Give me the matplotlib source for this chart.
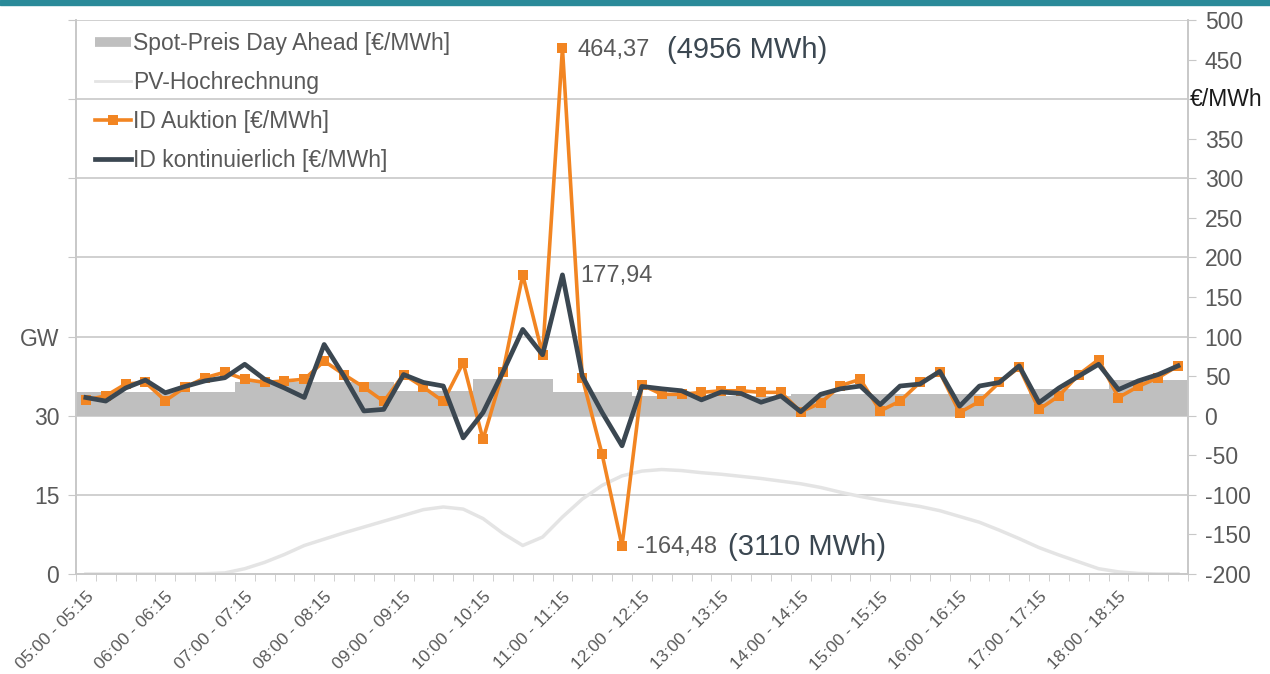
import numpy as np
import matplotlib
matplotlib.use("Agg")
import matplotlib.pyplot as plt
from matplotlib.patches import Rectangle
from matplotlib.lines import Line2D

plt.rcParams['font.family'] = ['Liberation Sans', 'DejaVu Sans']

# ---------------- data ----------------
hours = [f"{h:02d}:00 - {h:02d}:15" for h in range(5, 19)]
spot_hourly = [30, 30, 42, 42, 31, 47, 30, 25, 25, 27, 27, 27, 34, 45]

id_auktion = [20, 25, 40, 42, 19, 36, 48, 55, 46, 42, 44, 46, 69, 52, 36, 18, 52, 36, 18, 67,
              -30, 55, 178, 77, 464.37, 48, -49, -164.48, 39, 27, 27, 29.5, 31.5, 31.5, 29.5, 29.5,
              5, 16, 38, 46, 6, 18.5, 42, 55, 4, 18, 42, 61, 8, 25, 52, 71, 23, 37, 48, 63]

id_kont = [23, 18.5, 35, 45, 29, 37, 44, 48, 65, 46, 35, 23, 90, 50, 6, 8, 52, 42, 37.5, -28,
           4, 55, 109, 77, 177.94, 50, 4, -38, 37, 34, 31.5, 20, 30, 28, 17, 25,
           5, 27, 34, 37.5, 14, 37.5, 40, 56, 12, 37.5, 42, 63, 16.5, 35, 50, 65, 33, 44, 52, 63]

pv = [0, 0, 0, 0, 0, 0, 0.05, 0.2, 1.0, 2.2, 3.7, 5.4, 6.6, 7.8, 8.9, 10.0, 11.1, 12.2, 12.7, 12.3,
      10.5, 7.7, 5.4, 7.0, 10.8, 14.2, 16.8, 18.6, 19.5, 19.8, 19.6, 19.2, 18.9, 18.5, 18.1, 17.6,
      17.1, 16.4, 15.5, 14.7, 14.0, 13.4, 12.8, 12.0, 10.9, 9.8, 8.3, 6.7, 5.0, 3.6, 2.3, 1.0,
      0.4, 0.1, 0, 0]

n = len(id_auktion)
x = np.arange(n)

# ---------------- figure ----------------
fig = plt.figure(figsize=(12.7, 6.74), dpi=100)
fig.patches.append(Rectangle((0, 0.9926), 1, 0.0074, transform=fig.transFigure,
                             color='#2a8a99', zorder=0))
ax = fig.add_axes([0.0598, 0.1484, 0.8756, 0.8219])
ax2 = ax.twinx()

grid_c = '#c8c8c8'
txt_c = '#595959'

# left axis (GW)
ax.set_ylim(0, 105)
ax.set_xlim(-0.5, n - 0.5)
for g in np.arange(15, 106, 15):
    ax.axhline(g, color=grid_c, lw=1.2, zorder=0)
ax.set_yticks(np.arange(0, 106, 15))
ylabels = ['0', '15', '30', 'GW', '', '', '', '']
ax.set_yticklabels(ylabels, fontsize=16.5, color=txt_c)
ax.tick_params(axis='y', length=6, color=grid_c, pad=6)

# x ticks
ax.set_xticks(np.arange(0, n, 4))
ax.set_xticklabels(hours, rotation=45, ha='right', rotation_mode='anchor',
                   fontsize=12.5, color=txt_c)
ax.set_xticks(np.arange(-0.5, n, 1), minor=True)
ax.tick_params(axis='x', which='major', length=0, pad=11)
ax.tick_params(axis='x', which='minor', length=5, color=grid_c)

for a in (ax, ax2):
    a.spines['top'].set_visible(False)
    for s in ['left', 'right', 'bottom']:
        a.spines[s].set_color(grid_c)
        a.spines[s].set_linewidth(1.2)

# PV on left axis
ax.plot(x, pv, color='#e4e4e4', lw=2.5, zorder=2)

# right axis (EUR/MWh)
ax2.set_ylim(-200, 500)
ax2.set_yticks(np.arange(-200, 501, 50))
rlabels = [str(v) for v in range(-200, 501, 50)]
rlabels[rlabels.index('400')] = ''
ax2.set_yticklabels(rlabels, fontsize=16.5, color=txt_c)
ax2.tick_params(axis='y', length=6, color=grid_c, pad=6)
ax2.text(1.002, 400, '€/MWh', transform=ax2.get_yaxis_transform(), fontsize=16.5,
         color='#1a1a1a', va='center', ha='left')

hour_pos = np.arange(len(spot_hourly)) * 4 + 1.5
ax2.bar(hour_pos, spot_hourly, width=4, color='#bfbfbf', zorder=1, linewidth=0)

ax2.plot(x, id_auktion, color='#f28522', lw=2.6, marker='s', markersize=7.5,
         markeredgewidth=0, zorder=3)
ax2.plot(x, id_kont, color='#3b4751', lw=3.4, zorder=4)

# annotations
i_max = int(np.argmax(id_auktion))
i_min = int(np.argmin(id_auktion))
i_kmax = int(np.argmax(id_kont))
ax2.annotate('464,37', (i_max, id_auktion[i_max]), xytext=(11, -1), textcoords='offset points',
             fontsize=17, color=txt_c, va='center', ha='left')
ax2.annotate('(4956 MWh)', (i_max, id_auktion[i_max]), xytext=(75, -1), textcoords='offset points',
             fontsize=21, color='#3b4751', va='center', ha='left')
ax2.annotate('177,94', (i_kmax, id_kont[i_kmax]), xytext=(13, -1), textcoords='offset points',
             fontsize=17, color=txt_c, va='center', ha='left')
ax2.annotate('-164,48', (i_min, id_auktion[i_min]), xytext=(11, -1), textcoords='offset points',
             fontsize=17, color=txt_c, va='center', ha='left')
ax2.annotate('(3110 MWh)', (i_min, id_auktion[i_min]), xytext=(76, -1), textcoords='offset points',
             fontsize=21, color='#3b4751', va='center', ha='left')

# legend
handles = [
    Line2D([], [], color='#bfbfbf', lw=7, solid_capstyle='butt'),
    Line2D([], [], color='#e4e4e4', lw=2),
    Line2D([], [], color='#f28522', lw=2.6, marker='s', markersize=7.5, markeredgewidth=0),
    Line2D([], [], color='#3b4751', lw=3.4),
]
labels = ['Spot-Preis Day Ahead [€/MWh]', 'PV-Hochrechnung', 'ID Auktion [€/MWh]',
          'ID kontinuierlich [€/MWh]']
leg = ax2.legend(handles, labels, loc='upper left', bbox_to_anchor=(0.003, 1.008),
                 frameon=False, fontsize=16.5, handlelength=1.55, handletextpad=0.1,
                 labelspacing=0.7, borderaxespad=0.3)
for t in leg.get_texts():
    t.set_color(txt_c)

fig.savefig('out.png', dpi=100)
